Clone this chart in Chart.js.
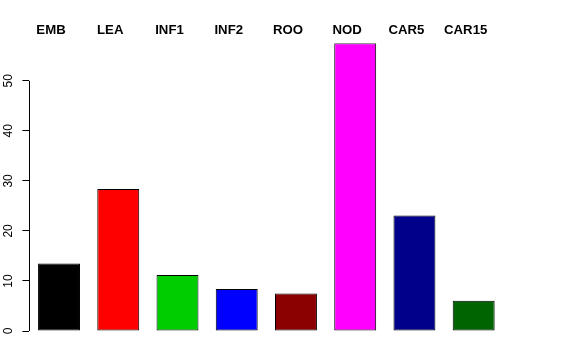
<!DOCTYPE html>
<html>
<head>
<meta charset="utf-8">
<script src="https://cdn.jsdelivr.net/npm/chart.js@4.4.1/dist/chart.umd.min.js"></script>
<style>
  html, body { margin: 0; padding: 0; background: #ffffff; }
  #wrap { width: 576px; height: 360px; position: relative; }
</style>
</head>
<body>
<div id="wrap"><canvas id="c" width="576" height="360"></canvas></div>
<script>
const categories = ["EMB", "LEA", "INF1", "INF2", "ROO", "NOD", "CAR5", "CAR15"];
const values = [13.5, 28.4, 11.2, 8.4, 7.5, 57.5, 23.1, 6.05];
const barColors = ["#000000", "#FF0000", "#00CD00", "#0000FF", "#8B0000", "#FF00FF", "#00008B", "#006400"];
const yTicks = [0, 10, 20, 30, 40, 50];

const axisLinePlugin = {
  id: 'axisLine',
  afterDraw(chart) {
    const y = chart.scales.y;
    const ctx = chart.ctx;
    const x = Math.round(y.right) + 0.5;
    ctx.save();
    ctx.strokeStyle = '#000000';
    ctx.lineWidth = 1;
    ctx.beginPath();
    ctx.moveTo(x, y.getPixelForValue(yTicks[0]));
    ctx.lineTo(x, y.getPixelForValue(yTicks[yTicks.length - 1]));
    ctx.stroke();
    ctx.restore();
  }
};

new Chart(document.getElementById('c'), {
  type: 'bar',
  data: {
    labels: categories,
    datasets: [{
      data: values,
      backgroundColor: barColors,
      borderColor: '#000000',
      borderWidth: 1,
      borderSkipped: false,
      categoryPercentage: 1.0,
      barPercentage: 0.708
    }]
  },
  options: {
    responsive: false,
    animation: false,
    devicePixelRatio: 1,
    layout: { padding: { top: 0, left: 0, right: 72.7, bottom: 29 } },
    plugins: { legend: { display: false }, tooltip: { enabled: false } },
    scales: {
      x: {
        position: 'top',
        offset: true,
        grid: { display: false, drawTicks: false },
        border: { display: false },
        afterFit(scale) { scale.height = 43.3; },
        ticks: {
          color: '#000000',
          font: { family: 'Liberation Sans', size: 13.2, weight: 'bold' },
          padding: 5.5,
          labelOffset: -8,
          maxRotation: 0,
          minRotation: 0,
          autoSkip: false
        }
      },
      y: {
        min: 0,
        max: 57.5,
        afterBuildTicks(scale) { scale.ticks = yTicks.map(v => ({ value: v })); },
        afterFit(scale) { scale.width = 29.4; },
        grid: { drawOnChartArea: false, drawTicks: true, tickLength: 7, color: '#000000', lineWidth: 1 },
        border: { display: false },
        ticks: {
          color: '#000000',
          font: { family: 'Liberation Sans', size: 12 },
          padding: 7,
          minRotation: 90,
          maxRotation: 90,
          crossAlign: 'center'
        }
      }
    }
  },
  plugins: [axisLinePlugin]
});
</script>
</body>
</html>
